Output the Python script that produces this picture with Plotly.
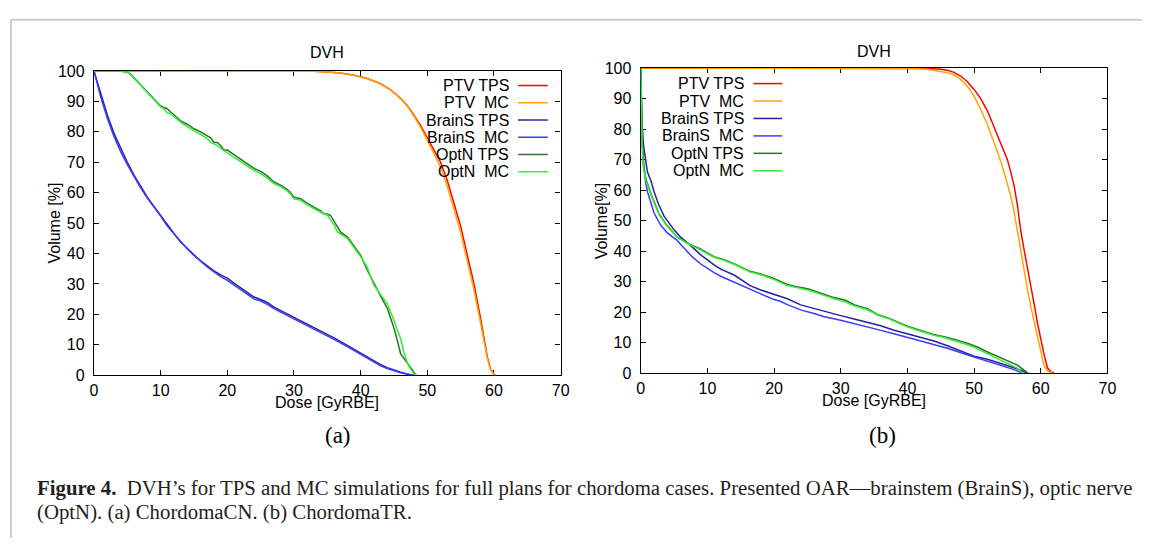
import plotly.graph_objects as go

# ---------------- (a) ChordomaCN ----------------
a_ptv_tps_dose = [0, 30, 33, 35, 37, 39, 41, 43, 44.5, 46, 47, 48, 49, 50, 51, 52, 53, 54, 55, 56, 57, 58, 58.5, 59, 59.5, 60, 60.3]
a_ptv_tps_vol = [100, 100, 99.9, 99.7, 99.3, 98.6, 97.5, 95.8, 93.8, 91, 88.6, 85.5, 82, 78, 74, 70, 64, 56.5, 49, 39.5, 30, 18.5, 12.5, 6, 2, 0.3, 0]

a_ptv_mc_dose = [0, 30, 33, 35, 37, 39, 41, 43, 44.5, 46, 47, 48, 49, 50, 51, 52, 53, 54, 55, 56, 57, 58, 58.5, 59, 59.5, 60, 60.3]
a_ptv_mc_vol = [100, 100, 99.9, 99.7, 99.3, 98.6, 97.5, 95.8, 93.8, 91, 88.4, 85.2, 81.5, 77.2, 73, 68.5, 62, 54.5, 47, 37.5, 28, 17, 11.5, 5.5, 1.8, 0.2, 0]

a_brs_tps_dose = [0, 0.5, 1, 1.5, 2, 3, 4, 5, 6, 7, 8, 9, 10, 11, 12, 13, 14, 15, 16, 17, 18, 19, 20, 21, 22, 23, 24, 25, 26, 27, 28, 29, 30, 32, 34, 36, 38, 40, 41, 42, 43, 44, 45, 46, 47, 48]
a_brs_tps_vol = [100, 96.5, 92.5, 89, 85.5, 79.5, 74.5, 70, 65.8, 62, 58.5, 55.5, 52.5, 49.2, 46.6, 43.8, 41.6, 39.6, 37.6, 35.9, 34.3, 33, 31.9, 30.3, 28.7, 27.1, 25.7, 24.9, 23.9, 22.4, 21.3, 20.2, 19.1, 16.9, 14.6, 12.3, 9.8, 7.2, 5.9, 4.7, 3.5, 2.5, 1.7, 1.0, 0.4, 0]

a_brs_mc_dose = [0, 0.5, 1, 1.5, 2, 3, 4, 5, 6, 7, 8, 9, 10, 11, 12, 13, 14, 15, 16, 17, 18, 19, 20, 21, 22, 23, 24, 25, 26, 27, 28, 29, 30, 32, 34, 36, 38, 40, 41, 42, 43, 44, 45, 46, 47, 47.8]
a_brs_mc_vol = [100, 95.5, 91.5, 88, 84.5, 78.5, 73.5, 69.2, 65.2, 61.6, 58.2, 55.3, 52.3, 49, 46.5, 43.7, 41.5, 39.4, 37.4, 35.6, 34, 32.4, 31.2, 29.6, 28, 26.5, 25.1, 24.4, 23.3, 21.9, 20.8, 19.7, 18.6, 16.4, 14.1, 11.8, 9.4, 6.8, 5.5, 4.3, 3.1, 2.2, 1.4, 0.8, 0.3, 0]

a_opt_tps_dose = [0, 4, 5, 5.5, 6, 7, 8, 9, 10, 10.5, 11, 11.5, 12, 13, 14, 15, 16, 17, 17.5, 18, 18.5, 19, 19.5, 20, 21, 22, 23, 24, 25, 26, 27, 28, 29, 29.5, 30, 31, 32, 33, 34, 34.5, 35, 35.5, 36, 36.5, 37, 38, 39, 40, 41, 42, 43, 44, 44.5, 45, 45.5, 46, 47, 47.5, 48, 48.3]
a_opt_tps_vol = [100, 100, 99.6, 99, 97.8, 95.5, 93, 91, 88.5, 88, 87.6, 86.5, 85.5, 83.6, 82.5, 81, 80, 78.5, 78, 76.5, 76.5, 75.5, 74, 74, 72.5, 71, 69.5, 68, 67, 65.5, 63.5, 62.5, 61, 60, 58.5, 58, 56.5, 55.3, 54, 53, 53, 52.5, 50.5, 48.5, 47, 45.5, 42.5, 39.5, 34.5, 30, 26, 22, 19, 15.5, 11.5, 7, 4, 2.5, 1, 0]

a_opt_mc_dose = [0, 4, 5, 5.5, 6, 7, 8, 9, 10, 10.5, 11, 11.5, 12, 13, 14, 15, 16, 17, 17.5, 18, 18.5, 19, 19.5, 20, 21, 22, 23, 24, 25, 26, 27, 28, 29, 29.5, 30, 31, 32, 33, 34, 34.5, 35, 35.5, 36, 36.5, 37, 38, 39, 40, 41, 42, 43, 44, 45, 45.5, 46, 46.5, 47, 47.5, 48, 48.4]
a_opt_mc_vol = [100, 100, 99.5, 98.8, 97.6, 95.3, 92.8, 90.8, 88.2, 87.6, 86.2, 86, 85, 83.2, 81.7, 80.3, 79.2, 77.8, 76.5, 76, 75.5, 74.6, 73.8, 73.2, 71.6, 70.2, 68.8, 67.3, 66.3, 64.8, 63, 62, 60.6, 59.5, 58, 57.5, 56, 54.8, 53.5, 53, 52.6, 51, 49.5, 47.2, 46.5, 45, 42, 39, 35.5, 29.5, 26.5, 23.5, 18, 15, 12, 7.5, 4, 2, 0.5, 0]

# ---------------- (b) ChordomaTR ----------------
b_ptv_tps_dose = [0, 40, 43, 45, 46, 47, 48, 49, 50, 51, 52, 53, 54, 55, 55.5, 56, 56.5, 57, 57.5, 58, 58.5, 59, 59.5, 60, 60.5, 61, 61.5, 62]
b_ptv_tps_vol = [100, 100, 99.9, 99.6, 99.3, 98.6, 97.4, 95.5, 93, 90, 86, 80.7, 75.5, 70, 66, 61.5, 55.2, 46.7, 40.5, 35, 29, 22.8, 16.5, 11, 6.2, 1.8, 0.5, 0]

b_ptv_mc_dose = [0, 38, 41, 43, 45, 46, 47, 48, 49, 50, 51, 52, 53, 54, 55, 55.5, 56, 56.5, 57, 57.5, 58, 58.5, 59, 59.5, 60, 60.5, 61, 61.5, 61.8]
b_ptv_mc_vol = [100, 100, 99.9, 99.6, 99, 98.5, 97.8, 96.3, 94, 90.8, 86.5, 81.5, 75.5, 69.5, 62, 58, 53, 46.7, 40, 33, 27.5, 22, 17, 11.5, 7, 2.5, 0.8, 0.2, 0]

b_brs_tps_dose = [0, 0.1, 0.2, 0.4, 0.7, 1, 1.6, 2, 2.7, 3.5, 4.4, 5, 6, 7, 7.7, 9, 10, 11, 12, 13, 14, 15, 16.4, 18, 19.7, 21, 22, 24, 26, 28, 30, 32, 34, 36, 38, 40, 42, 44, 46, 48, 50, 52, 54, 55, 56, 57, 57.6, 58.1]
b_brs_tps_vol = [100, 90, 82, 75, 69.5, 66, 62.6, 59.5, 55.2, 51.5, 48.8, 47, 44.6, 42.8, 41.4, 38.8, 37, 35.5, 34.1, 33.2, 32.2, 30.8, 28.7, 27.3, 26, 25.2, 24.4, 22.4, 21.2, 19.9, 18.9, 17.8, 16.8, 15.6, 14.1, 12.9, 11.8, 10.6, 9, 7.4, 5.6, 4.6, 3.3, 2.5, 1.8, 1, 0.4, 0]

b_brs_mc_dose = [0, 0.1, 0.2, 0.4, 0.7, 1, 1.6, 2, 3, 4, 5, 5.5, 6, 7, 7.7, 9, 9.9, 11, 12, 13, 14.3, 15, 16.4, 18, 19.7, 21, 22, 24.1, 26, 27.4, 30, 32.9, 35.6, 38.4, 41, 43.9, 46, 49.3, 52, 54.8, 56, 57.3]
b_brs_mc_vol = [100, 88, 78, 70, 63, 59.5, 55, 52.5, 48.5, 46, 44.3, 43.5, 42.2, 39.8, 38.2, 35.8, 34.5, 33, 31.8, 30.8, 29.7, 28.8, 27.6, 26, 24.4, 23.5, 22.5, 20.7, 19.6, 18.6, 17.4, 15.9, 14.3, 12.7, 11.2, 9.6, 8.2, 5.8, 4, 2.1, 1.2, 0]

b_opt_tps_dose = [0, 0.1, 0.2, 0.4, 0.8, 1.6, 2.7, 3.8, 5.5, 7.1, 8.8, 11, 12.5, 14.3, 16.4, 18, 19.7, 21.9, 23, 25.2, 27.4, 29, 30.7, 32, 34, 35.5, 37.3, 40, 42, 43.9, 45.5, 47.1, 49.3, 50.5, 52.1, 53.5, 54.8, 55.8, 56.5, 57.2, 58.1]
b_opt_tps_vol = [100, 85, 76, 68, 63.5, 58.4, 52.5, 48.8, 44.6, 42.5, 40.9, 38.2, 37.2, 35.6, 33.4, 32.5, 31.3, 29.2, 28.5, 27.6, 26, 24.8, 23.9, 22.5, 21.2, 19.3, 18, 15.4, 14, 12.7, 12, 11.1, 9.6, 8.6, 6.9, 5.6, 4.2, 3.4, 2.7, 1.5, 0]

b_opt_mc_dose = [0, 0.1, 0.2, 0.4, 0.8, 1.6, 2.7, 3.8, 5.5, 7.1, 8.8, 11, 12.5, 14.3, 16.4, 18, 19.7, 21.9, 23, 25.2, 27.4, 29, 30.7, 32, 34, 35.5, 37.3, 40, 42, 43.9, 45.5, 47.1, 49.3, 50.5, 52.1, 53.5, 54.8, 55.8, 56.5, 57.3]
b_opt_mc_vol = [100, 84, 75, 67.5, 63, 58, 52.2, 48.6, 44.5, 42.4, 40.6, 38, 37, 35.4, 33.2, 32.3, 31, 28.8, 28.2, 27.2, 25.6, 24.4, 23.4, 22.1, 20.8, 19.1, 17.8, 15.2, 13.8, 12.5, 11.7, 10.6, 9.2, 8, 6.2, 4.8, 3.4, 2.4, 1.6, 0]

series_names = ["PTV TPS", "PTV\u00a0\u00a0MC", "BrainS TPS", "BrainS\u00a0\u00a0MC", "OptN TPS", "OptN\u00a0\u00a0MC"]
series_colors = ["#ff0000", "#ffa500", "#25259b", "#3b3bff", "#2a722a", "#33ee33"]

panel_a = [(a_ptv_tps_dose, a_ptv_tps_vol), (a_ptv_mc_dose, a_ptv_mc_vol),
           (a_brs_tps_dose, a_brs_tps_vol), (a_brs_mc_dose, a_brs_mc_vol),
           (a_opt_tps_dose, a_opt_tps_vol), (a_opt_mc_dose, a_opt_mc_vol)]
panel_b = [(b_ptv_tps_dose, b_ptv_tps_vol), (b_ptv_mc_dose, b_ptv_mc_vol),
           (b_brs_tps_dose, b_brs_tps_vol), (b_brs_mc_dose, b_brs_mc_vol),
           (b_opt_tps_dose, b_opt_tps_vol), (b_opt_mc_dose, b_opt_mc_vol)]

dose_ticks = [0, 10, 20, 30, 40, 50, 60, 70]
volume_ticks = [0, 10, 20, 30, 40, 50, 60, 70, 80, 90, 100]

W, H = 1151, 547


def px(x):
    return x / W


def py(y):
    return 1 - y / H


SANS = "Liberation Sans, Arial, sans-serif"
SERIF = "Liberation Serif, Times New Roman, serif"

fig = go.Figure()

for (d, v), name, col in zip(panel_a, series_names, series_colors):
    fig.add_trace(go.Scatter(x=d, y=v, mode="lines", name=name, xaxis="x", yaxis="y",
                             line=dict(color=col, width=1.5), showlegend=False))
for (d, v), name, col in zip(panel_b, series_names, series_colors):
    fig.add_trace(go.Scatter(x=d, y=v, mode="lines", name=name, xaxis="x2", yaxis="y2",
                             line=dict(color=col, width=1.5), showlegend=False))

axis_common = dict(
    showline=True, linecolor="black", linewidth=1.3, mirror="ticks",
    ticks="inside", ticklen=5, tickwidth=1, tickcolor="black",
    showgrid=False, zeroline=False, layer="below traces",
    tickfont=dict(family=SANS, size=16, color="black"),
)

# panel geometry in pixels
A = dict(l=91, r=563, t=65, b=379)
B = dict(l=644, r=1116, t=62, b=377)

fig.update_layout(
    width=W, height=H, margin=dict(l=0, r=0, t=0, b=0),
    paper_bgcolor="white", plot_bgcolor="white", showlegend=False,
    xaxis=dict(domain=[px(A["l"]), px(A["r"])], range=[0, 70], tickvals=dose_ticks,
               anchor="y", ticklabelstandoff=0, **axis_common),
    yaxis=dict(domain=[py(A["b"]), py(A["t"])], range=[0, 100], tickvals=volume_ticks,
               anchor="x", ticklabelstandoff=5, **axis_common),
    xaxis2=dict(domain=[px(B["l"]), px(B["r"])], range=[0, 70], tickvals=dose_ticks,
                anchor="y2", ticklabelstandoff=0, **axis_common),
    yaxis2=dict(domain=[py(B["b"]), py(B["t"])], range=[0, 100], tickvals=volume_ticks,
                anchor="x2", ticklabelstandoff=5, **axis_common),
)

ann = []
shapes = []


def text(x, y, s, size=16, family=SANS, xanchor="center", angle=0, color="black"):
    ann.append(dict(x=px(x), y=py(y), xref="paper", yref="paper", text=s, showarrow=False,
                    xanchor=xanchor, yanchor="middle", textangle=angle,
                    font=dict(family=family, size=size, color=color)))


# titles and axis labels
text(327, 46, "DVH")
text(880, 45, "DVH")
text(51, 222, "Volume [%]", angle=-90)
text(604, 220, "Volume[%]", angle=-90)
text(327, 407, "Dose [GyRBE]")
text(880, 405, "Dose [GyRBE]")

# key boxes: right-aligned labels with a line sample
for i, (name, col) in enumerate(zip(series_names, series_colors)):
    ya = 80 + 17.8 * i
    text(513, ya, name, xanchor="right")
    shapes.append(dict(type="line", xref="paper", yref="paper", x0=px(520), x1=px(550),
                       y0=py(ya), y1=py(ya), line=dict(color=col, width=1.5)))
    yb = 78 + 18 * i
    text(750, yb, name, xanchor="right")
    shapes.append(dict(type="line", xref="paper", yref="paper", x0=px(758), x1=px(787),
                       y0=py(yb), y1=py(yb), line=dict(color=col, width=1.5)))

# sub-figure labels and caption
text(338, 441, "(a)", size=23, family=SERIF)
text(889, 441, "(b)", size=23, family=SERIF)
cap_col = "#231f20"
text(31, 495, "<b>Figure\u00a04.</b>\u00a0\u00a0DVH\u2019s for TPS and MC simulations for full plans for chordoma cases. "
     "Presented OAR\u2014brainstem (BrainS), optic nerve", size=20.8, family=SERIF, xanchor="left", color=cap_col)
text(31, 520, "(OptN). (a) ChordomaCN. (b) ChordomaTR.", size=20.8, family=SERIF, xanchor="left", color=cap_col)

# page frame
shapes.append(dict(type="line", xref="paper", yref="paper", x0=px(7), x1=1, y0=py(12), y1=py(12),
                   line=dict(color="#cccccc", width=2)))
shapes.append(dict(type="line", xref="paper", yref="paper", x0=px(7), x1=px(7), y0=py(12), y1=0,
                   line=dict(color="#cccccc", width=2)))

fig.update_layout(annotations=ann, shapes=shapes)
fig.write_html("out.html")
